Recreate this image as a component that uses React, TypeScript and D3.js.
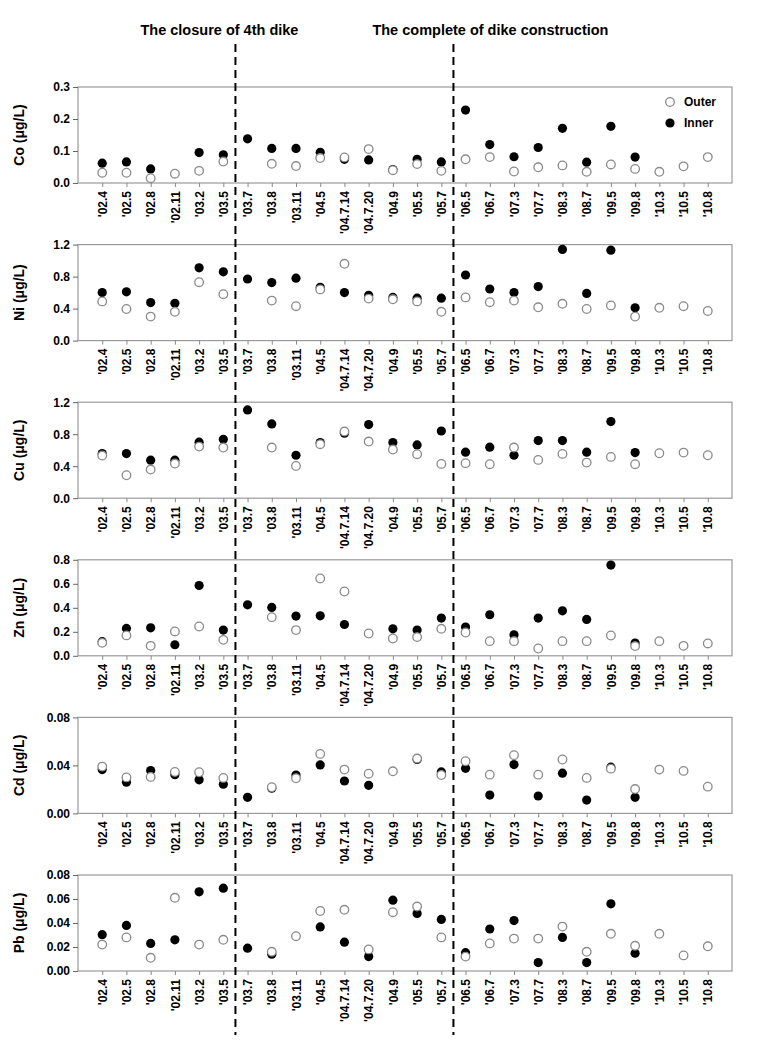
import React, { useEffect, useRef } from 'react';
import * as d3 from 'd3';

const categories = [
  "'02.4", "'02.5", "'02.8", "'02.11", "'03.2", "'03.5", "'03.7", "'03.8", "'03.11",
  "'04.5", "'04.7.14", "'04.7.20", "'04.9", "'05.5", "'05.7", "'06.5", "'06.7", "'07.3",
  "'07.7", "'08.3", "'08.7", "'09.5", "'09.8", "'10.3", "'10.5", "'10.8",
];

type V = number | null;

const coOuter: V[] = [0.032, 0.032, 0.015, 0.029, 0.038, 0.067, null, 0.06, 0.053, 0.078, 0.08, 0.106, 0.04, 0.059, 0.038, 0.074, 0.081, 0.036, 0.049, 0.055, 0.035, 0.058, 0.044, 0.035, 0.052, 0.081];
const coInner: V[] = [0.062, 0.066, 0.044, null, 0.095, 0.088, 0.138, 0.108, 0.108, 0.096, 0.074, 0.072, 0.042, 0.074, 0.066, 0.228, 0.12, 0.082, 0.111, 0.171, 0.065, 0.177, 0.081, null, null, null];

const niOuter: V[] = [0.49, 0.395, 0.3, 0.36, 0.73, 0.58, null, 0.5, 0.43, 0.64, 0.96, 0.525, 0.516, 0.49, 0.36, 0.54, 0.48, 0.5, 0.416, 0.46, 0.395, 0.44, 0.3, 0.41, 0.43, 0.37];
const niInner: V[] = [0.6, 0.61, 0.475, 0.466, 0.91, 0.86, 0.77, 0.725, 0.78, 0.666, 0.6, 0.566, 0.54, 0.53, 0.53, 0.82, 0.645, 0.6, 0.675, 1.14, 0.59, 1.13, 0.41, null, null, null];

const cuOuter: V[] = [0.533, 0.287, 0.358, 0.433, 0.645, 0.633, null, 0.633, 0.404, 0.675, 0.833, 0.708, 0.608, 0.55, 0.429, 0.438, 0.425, 0.633, 0.479, 0.554, 0.445, 0.516, 0.425, 0.562, 0.57, 0.537];
const cuInner: V[] = [0.558, 0.558, 0.475, 0.475, 0.7, 0.737, 1.104, 0.929, 0.537, 0.695, 0.812, 0.92, 0.695, 0.666, 0.84, 0.575, 0.638, 0.537, 0.72, 0.72, 0.575, 0.958, 0.57, null, null, null];

const znOuter: V[] = [0.108, 0.17, 0.083, 0.203, 0.244, 0.133, null, 0.322, 0.214, 0.644, 0.536, 0.186, 0.144, 0.156, 0.225, 0.194, 0.122, 0.122, 0.061, 0.122, 0.122, 0.169, 0.081, 0.122, 0.083, 0.103];
const znInner: V[] = [0.118, 0.228, 0.233, 0.092, 0.586, 0.214, 0.425, 0.403, 0.331, 0.333, 0.261, null, 0.225, 0.214, 0.314, 0.239, 0.342, 0.175, 0.314, 0.375, 0.303, 0.756, 0.106, null, null, null];

const cdOuter: V[] = [0.039, 0.03, 0.0304, 0.0346, 0.0343, 0.0296, null, 0.0218, 0.0293, 0.0496, 0.0365, 0.0331, 0.0351, 0.0457, 0.032, 0.0435, 0.0323, 0.0485, 0.0323, 0.0449, 0.0296, 0.0373, 0.0203, 0.0365, 0.0354, 0.0223];
const cdInner: V[] = [0.0365, 0.026, 0.0357, 0.0323, 0.028, 0.0243, 0.0134, 0.021, 0.032, 0.0404, 0.027, 0.0234, null, 0.045, 0.0346, 0.0376, 0.0153, 0.0407, 0.0145, 0.0335, 0.0111, 0.0385, 0.0134, null, null, null];

const pbOuter: V[] = [0.022, 0.028, 0.011, 0.061, 0.022, 0.026, null, 0.016, 0.029, 0.05, 0.051, 0.018, 0.049, 0.0537, 0.028, 0.012, 0.023, 0.027, 0.027, 0.037, 0.016, 0.031, 0.021, 0.031, 0.013, 0.0206];
const pbInner: V[] = [0.0303, 0.038, 0.023, 0.026, 0.066, 0.069, 0.019, 0.014, null, 0.0367, 0.024, 0.012, 0.059, 0.048, 0.043, 0.0153, 0.035, 0.042, 0.007, 0.028, 0.007, 0.056, 0.0148, null, null, null];

const panels = [
  { label: 'Co (μg/L)', max: 0.3, ticks: [0, 0.1, 0.2, 0.3], fmt: '.1f', outer: coOuter, inner: coInner },
  { label: 'Ni (μg/L)', max: 1.2, ticks: [0, 0.4, 0.8, 1.2], fmt: '.1f', outer: niOuter, inner: niInner },
  { label: 'Cu (μg/L)', max: 1.2, ticks: [0, 0.4, 0.8, 1.2], fmt: '.1f', outer: cuOuter, inner: cuInner },
  { label: 'Zn (μg/L)', max: 0.8, ticks: [0, 0.2, 0.4, 0.6, 0.8], fmt: '.1f', outer: znOuter, inner: znInner },
  { label: 'Cd (μg/L)', max: 0.08, ticks: [0, 0.04, 0.08], fmt: '.2f', outer: cdOuter, inner: cdInner },
  { label: 'Pb (μg/L)', max: 0.08, ticks: [0, 0.02, 0.04, 0.06, 0.08], fmt: '.2f', outer: pbOuter, inner: pbInner },
];

const events = [
  { text: 'The closure of 4th dike', after: "'03.5", before: "'03.7" },
  { text: 'The complete of dike construction', after: "'05.7", before: "'06.5" },
];
// heading centre relative to its dashed line
const headingShift = [-16, 37];

const W = 757;
const H = 1040;
const left = 78;
const right = 732;
const firstTop = 87;
const panelH = 96;
const panelStep = 157.6;
const font = "'Liberation Sans', Arial, sans-serif";

export default function App() {
  const ref = useRef<SVGSVGElement>(null);

  useEffect(() => {
    document.body.style.margin = '0';
    if (!ref.current) return;
    const svg = d3.select(ref.current);
    svg.selectAll('*').remove();

    const x = d3.scalePoint<string>().domain(categories).range([left, right]).padding(1);

    panels.forEach((p, i) => {
      const top = firstTop + i * panelStep;
      const y = d3.scaleLinear().domain([0, p.max]).range([top + panelH, top]);
      const g = svg.append('g');

      g.append('rect')
        .attr('x', left)
        .attr('y', top)
        .attr('width', right - left)
        .attr('height', panelH)
        .attr('fill', 'none')
        .attr('stroke', '#9a9a9a')
        .attr('stroke-width', 1.2);

      // y axis
      const ya = g
        .append('g')
        .attr('transform', `translate(${left},0)`)
        .call(d3.axisLeft(y).tickValues(p.ticks).tickFormat(d3.format(p.fmt)).tickSize(5).tickPadding(3));
      ya.select('.domain').remove();
      ya.selectAll('line').attr('stroke', '#666');
      ya.selectAll('text').attr('font-family', font).attr('font-weight', 'bold').attr('font-size', 12).attr('fill', '#000');

      // x axis
      const xa = g
        .append('g')
        .attr('transform', `translate(0,${top + panelH})`)
        .call(d3.axisBottom(x).tickSize(4).tickPadding(2));
      xa.select('.domain').remove();
      xa.selectAll('line').attr('stroke', '#888');
      xa.selectAll('text')
        .attr('font-family', font)
        .attr('font-weight', 'bold')
        .attr('font-size', 12)
        .attr('fill', '#000')
        .attr('transform', 'rotate(-90)')
        .attr('text-anchor', 'end')
        .attr('dy', '0.35em')
        .attr('x', -8)
        .attr('y', 0);

      // y title
      g.append('text')
        .attr('transform', `translate(24,${top + panelH / 2}) rotate(-90)`)
        .attr('text-anchor', 'middle')
        .attr('font-family', font)
        .attr('font-weight', 'bold')
        .attr('font-size', 14)
        .text(p.label);

      const innerPts = categories.map((c, k) => ({ c, v: p.inner[k] })).filter((d) => d.v !== null);
      const outerPts = categories.map((c, k) => ({ c, v: p.outer[k] })).filter((d) => d.v !== null);

      g.selectAll('.inner')
        .data(innerPts)
        .enter()
        .append('circle')
        .attr('cx', (d) => x(d.c)!)
        .attr('cy', (d) => y(d.v as number))
        .attr('r', 4.6)
        .attr('fill', '#000');

      g.selectAll('.outer')
        .data(outerPts)
        .enter()
        .append('circle')
        .attr('cx', (d) => x(d.c)!)
        .attr('cy', (d) => y(d.v as number))
        .attr('r', 4.3)
        .attr('fill', '#fff')
        .attr('stroke', '#8a8a8a')
        .attr('stroke-width', 1.3);

      if (i === 0) {
        const legend = [
          { name: 'Outer', filled: false, yy: 102 },
          { name: 'Inner', filled: true, yy: 123 },
        ];
        legend.forEach((l) => {
          g.append('circle')
            .attr('cx', 670)
            .attr('cy', l.yy)
            .attr('r', l.filled ? 4.6 : 4.3)
            .attr('fill', l.filled ? '#000' : '#fff')
            .attr('stroke', l.filled ? 'none' : '#8a8a8a')
            .attr('stroke-width', 1.3);
          g.append('text')
            .attr('x', 684)
            .attr('y', l.yy)
            .attr('dy', '0.35em')
            .attr('font-family', font)
            .attr('font-weight', 'bold')
            .attr('font-size', 12)
            .text(l.name);
        });
      }
    });

    // event lines
    events.forEach((e, k) => {
      const ex = (x(e.after)! + x(e.before)!) / 2;
      svg
        .append('line')
        .attr('x1', ex)
        .attr('x2', ex)
        .attr('y1', 44)
        .attr('y2', 1035)
        .attr('stroke', '#000')
        .attr('stroke-width', 2)
        .attr('stroke-dasharray', '8,5');
      svg
        .append('text')
        .attr('x', ex + headingShift[k])
        .attr('y', 35)
        .attr('text-anchor', 'middle')
        .attr('font-family', font)
        .attr('font-weight', 'bold')
        .attr('font-size', 14.5)
        .text(e.text);
    });
  }, []);

  return <svg ref={ref} width={W} height={H} style={{ display: 'block', background: '#fff' }} />;
}
